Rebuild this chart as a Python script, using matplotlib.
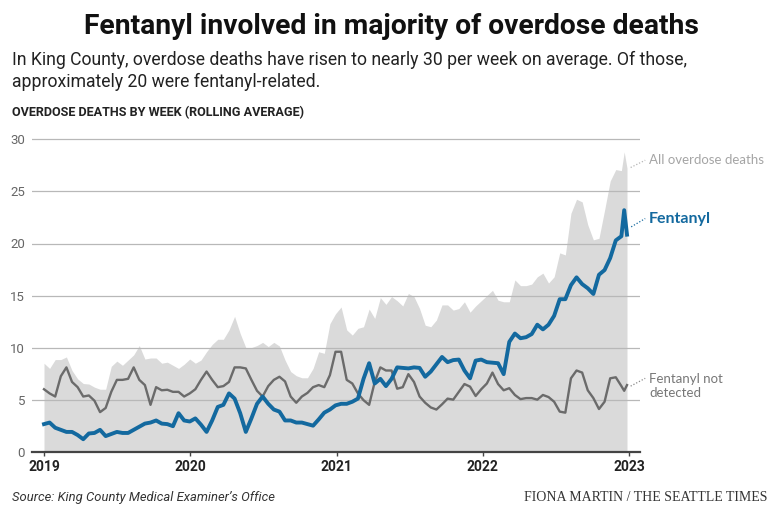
import matplotlib.pyplot as plt

# weeks since 2019-01-01, sampled every two weeks (plus the last spike)
weeks = list(range(0, 207, 2)) + [207, 208]

all_deaths = [8.5, 8.0, 8.85, 8.85, 9.1, 7.8, 7.0, 6.55, 6.5, 6.2, 6.0, 6.0, 8.2, 8.7, 8.3, 8.8, 9.3, 10.2, 8.9, 9.0, 9.0,
              8.5, 8.6, 8.3, 8.0, 8.4, 8.9, 8.5, 8.8, 9.6, 10.3, 10.8, 10.8, 11.7, 13.0, 11.35, 10.0, 10.0, 10.2, 10.5, 10.1, 10.5,
              10.15, 8.8, 7.7, 7.3, 7.1, 7.1, 8.0, 9.6, 9.45, 12.3, 13.25, 13.9, 11.7, 11.2, 11.85, 12.0, 13.7, 12.8, 14.8, 14.15, 14.9, 14.5,
              14.0, 15.2, 14.9, 13.75, 12.15, 12.0, 12.65, 14.1, 14.1, 13.6, 13.75, 14.4, 13.4, 14.0, 14.5, 15.0, 15.5, 14.55, 14.4, 14.4, 16.5,
              15.95, 15.95, 16.1, 16.8, 17.15, 16.2, 16.8, 19.1, 18.9, 22.9, 24.25, 24.0, 21.8, 20.35, 20.5, 23.2, 26.0, 27.1, 27.0,
              28.8, 27.25]

fentanyl = [2.65, 2.8, 2.3, 2.1, 1.9, 1.9, 1.6, 1.2, 1.75, 1.8, 2.1, 1.5, 1.7, 1.9, 1.8, 1.8, 2.1, 2.4, 2.7, 2.8, 3.0,
            2.7, 2.65, 2.45, 3.7, 3.0, 2.9, 3.2, 2.6, 1.9, 3.0, 4.3, 4.5, 5.6, 5.1, 3.7, 1.9, 3.2, 4.6, 5.3, 4.6, 4.05,
            3.85, 3.0, 3.0, 2.8, 2.8, 2.65, 2.5, 3.1, 3.75, 4.05, 4.45, 4.6, 4.6, 4.8, 5.1, 7.0, 8.5, 6.55, 7.0, 6.3, 7.0, 8.1,
            8.05, 8.0, 8.1, 8.05, 7.2, 7.7, 8.4, 9.1, 8.6, 8.8, 8.85, 7.8, 7.05, 8.75, 8.85, 8.6, 8.55, 8.5, 7.45, 10.55, 11.35,
            10.9, 11.0, 11.3, 12.2, 11.75, 12.2, 13.05, 14.65, 14.65, 16.0, 16.75, 16.1, 15.7, 15.15, 17.0, 17.45, 18.6, 20.3, 20.7,
            23.2, 20.85]

not_detected = [6.0, 5.6, 5.3, 7.25, 8.1, 6.7, 6.2, 5.3, 5.4, 4.9, 3.8, 4.2, 5.75, 6.9, 6.9, 7.0, 8.1, 6.9, 6.4, 4.5, 6.2,
                5.9, 5.95, 5.75, 5.75, 5.3, 5.6, 6.0, 6.9, 7.7, 6.9, 6.2, 6.3, 6.7, 8.1, 8.1, 8.0, 6.9, 5.85, 5.3, 6.3, 6.9,
                7.2, 6.75, 5.3, 4.7, 5.3, 5.65, 6.2, 6.4, 6.2, 7.35, 9.6, 9.6, 6.9, 6.55, 5.6, 4.95, 4.5, 6.7, 8.1, 7.8, 7.8, 6.05,
                6.2, 7.45, 6.7, 5.3, 4.7, 4.25, 4.05, 4.55, 5.1, 5.0, 5.75, 6.5, 6.25, 5.35, 6.0, 6.55, 7.6, 6.5, 5.9, 6.1, 5.45,
                5.05, 5.15, 5.15, 5.0, 5.45, 5.25, 4.8, 3.85, 3.75, 7.05, 7.8, 7.6, 5.9, 5.15, 4.1, 4.8, 7.05, 7.15, 6.3,
                5.85, 6.4]

years = ['2019', '2020', '2021', '2022', '2023']
year_weeks = [i * 365.25 / 7 for i in range(len(years))]
y_ticks = [0, 5, 10, 15, 20, 25, 30]

NARROW = ['Roboto', 'DejaVu Sans']
LABEL = ['Lato', 'DejaVu Sans']
BLUE = '#13699f'
GRAY = '#6b6b6b'

W, H = 780, 515
fig = plt.figure(figsize=(W / 100, H / 100), dpi=100)

# axes: week 0 at x=44px, 2023 at x=629px, y 0 at 451.7px, 10.41 px per unit
pxw = (629 - 44) / year_weeks[-1]
ax_l, ax_r = 32, 640
ymax = 30.5
ax = fig.add_axes([ax_l / W, (H - 451.7) / H, (ax_r - ax_l) / W, ymax * 10.41 / H])
ax.set_xlim(-(44 - ax_l) / pxw, year_weeks[-1] + (ax_r - 629) / pxw)
ax.set_ylim(0, ymax)

ax.fill_between(weeks, all_deaths, 0, color='#dadada', lw=0, zorder=1)
for v in y_ticks[1:]:
    ax.axhline(v, color='#b8b8b8', lw=0.9, zorder=2)
ax.plot(weeks, not_detected, color=GRAY, lw=1.7, zorder=3, solid_joinstyle='round')
ax.plot(weeks, fentanyl, color=BLUE, lw=2.8, zorder=4, solid_joinstyle='round')

for s in ['top', 'right', 'left']:
    ax.spines[s].set_visible(False)
ax.spines['bottom'].set_color('#444444')
ax.spines['bottom'].set_linewidth(1.6)
ax.spines['bottom'].set_zorder(5)

ax.set_xticks(year_weeks)
ax.set_xticklabels(years, fontfamily=NARROW, fontweight='bold', fontsize=10, color='#222222')
ax.tick_params(axis='x', length=3, width=1, color='#444444', pad=3)
ax.set_yticks(y_ticks)
ax.set_yticklabels([str(v) for v in y_ticks], fontfamily=NARROW, fontsize=9.5, color='#666666')
ax.tick_params(axis='y', length=0, pad=5)

# line labels with dotted leaders
lx = (649 - 44) / pxw
ax.plot([209.3, 214.5], [27.3, 28.0], ls=(0, (1, 1.5)), color='#b5b5b5', lw=0.9, clip_on=False)
ax.text(lx, 28.0, 'All overdose deaths', fontfamily=LABEL, fontsize=9.5, color='#a5a5a5',
        va='center', ha='left', clip_on=False)
ax.plot([209.5, 214.5], [21.6, 22.4], ls=(0, (1, 1.5)), color=BLUE, lw=0.9, clip_on=False)
ax.text(lx, 22.4, 'Fentanyl', fontfamily=LABEL, fontsize=11.5, fontweight='bold', color=BLUE,
        va='center', ha='left', clip_on=False)
ax.plot([209.3, 214.5], [6.3, 7.05], ls=(0, (1, 1.5)), color='#888888', lw=0.9, clip_on=False)
ax.text(lx, 6.3, 'Fentanyl not\ndetected', fontfamily=LABEL, fontsize=9.5, color='#777777',
        va='center', ha='left', linespacing=1.15, clip_on=False)

# titles and notes
fig.text(391 / W, 1 - 34 / H, 'Fentanyl involved in majority of overdose deaths', fontfamily=NARROW,
         fontweight='bold', fontsize=20.3, ha='center', va='baseline', color='#111111')
fig.text(12 / W, 1 - 65 / H, 'In King County, overdose deaths have risen to nearly 30 per week on average. Of those,',
         fontfamily=NARROW, fontsize=12.7, ha='left', va='baseline', color='#222222')
fig.text(12 / W, 1 - 87 / H, 'approximately 20 were fentanyl-related.',
         fontfamily=NARROW, fontsize=12.7, ha='left', va='baseline', color='#222222')
fig.text(12 / W, 1 - 116 / H, 'OVERDOSE DEATHS BY WEEK (ROLLING AVERAGE)', fontfamily=NARROW,
         fontweight='bold', fontsize=9.1, ha='left', va='baseline', color='#222222')
fig.text(12 / W, 1 - 501 / H, 'Source: King County Medical Examiner\u2019s Office', fontfamily=NARROW,
         fontstyle='italic', fontsize=9.4, ha='left', va='baseline', color='#333333')
fig.text(768 / W, 1 - 501 / H, 'FIONA MARTIN / THE SEATTLE TIMES', fontfamily=['Liberation Serif', 'DejaVu Serif'],
         fontsize=10, ha='right', va='baseline', color='#333333')

fig.savefig('out.png', dpi=100)
